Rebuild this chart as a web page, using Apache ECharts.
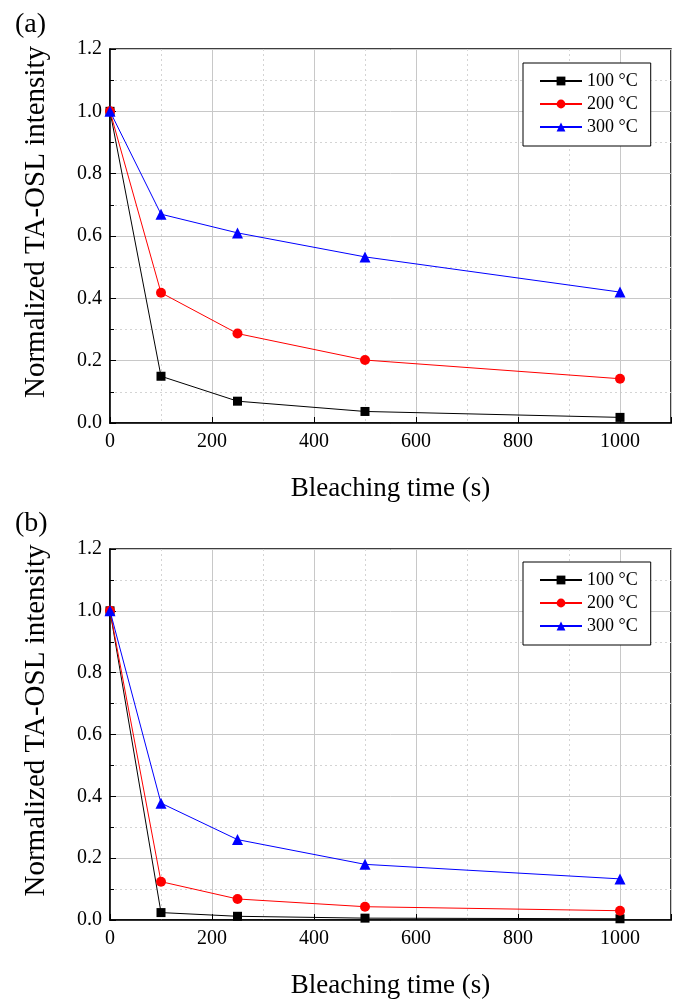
<!DOCTYPE html>
<html>
<head>
<meta charset="utf-8">
<script src="https://cdn.jsdelivr.net/npm/echarts@6/dist/echarts.min.js"></script>
<style>
  html, body { margin: 0; padding: 0; background: #fff; overflow: hidden; }
  #chart { width: 678px; height: 1000px; }
</style>
</head>
<body>
<div id="chart"></div>
<script>
var times = [0, 100, 250, 500, 1000];
var seriesNames = ['100 °C', '200 °C', '300 °C'];
// panel (a)
var a100 = [1.0, 0.150, 0.070, 0.037, 0.018];
var a200 = [1.0, 0.418, 0.287, 0.202, 0.142];
var a300 = [1.0, 0.670, 0.610, 0.533, 0.420];
// panel (b)
var b100 = [1.0, 0.024, 0.012, 0.006, 0.004];
var b200 = [1.0, 0.124, 0.068, 0.043, 0.030];
var b300 = [1.0, 0.378, 0.260, 0.180, 0.133];

var colors = ['#000000', '#ff0000', '#0000ff'];
var symbols = ['rect', 'circle', 'triangle'];
var symSizes = [9, 10, 11];
var font = 'Liberation Serif, Times New Roman, serif';

function pairs(ys) {
  return times.map(function (t, i) { return [t, ys[i]]; });
}

function xAxisOf(idx) {
  return {
    type: 'value', gridIndex: idx, min: 0, max: 1100, interval: 200,
    name: 'Bleaching time (s)', nameLocation: 'middle', nameGap: 52,
    nameTextStyle: { fontFamily: font, fontSize: 27, color: '#000' },
    axisLine: { show: true, onZero: false, lineStyle: { color: '#000', width: 1.5 } },
    axisTick: { show: true, inside: true, length: 6, lineStyle: { color: '#000' } },
    minorTick: { show: true, splitNumber: 2, length: 0, lineStyle: { color: '#000', width: 0 } },
    axisLabel: { fontFamily: font, fontSize: 20, color: '#000', margin: 9,
      formatter: function (v) { return v > 1000 ? '' : v; } },
    splitLine: { show: true, lineStyle: { color: '#c8c8c8', width: 1 } },
    minorSplitLine: { show: true, lineStyle: { color: '#d4d4d4', type: [2, 3], width: 1 } }
  };
}

function yAxisOf(idx) {
  return {
    type: 'value', gridIndex: idx, min: 0, max: 1.2, interval: 0.2,
    name: 'Normalized TA-OSL intensity', nameLocation: 'middle', nameGap: 59,
    // label sits a little above the middle of the axis
    nameTextStyle: { fontFamily: font, fontSize: 29, color: '#000', padding: [0, 0, 0, 28] },
    axisLine: { show: true, onZero: false, lineStyle: { color: '#000', width: 1.5 } },
    axisTick: { show: true, inside: true, length: 6, lineStyle: { color: '#000' } },
    minorTick: { show: true, splitNumber: 2, length: 4, lineStyle: { color: '#000' } },
    axisLabel: { fontFamily: font, fontSize: 20, color: '#000', margin: 8,
      formatter: function (v) { return v.toFixed(1); } },
    splitLine: { show: true, lineStyle: { color: '#c8c8c8', width: 1 } },
    minorSplitLine: { show: true, lineStyle: { color: '#d4d4d4', type: [2, 3], width: 1 } }
  };
}

function lineSeries(name, data, k, idx) {
  return {
    name: name, type: 'line', xAxisIndex: idx, yAxisIndex: idx,
    data: pairs(data), symbol: symbols[k], symbolSize: symSizes[k],
    lineStyle: { color: colors[k], width: 1 },
    itemStyle: { color: colors[k] },
    clip: false, z: 3 + k
  };
}

function legendOf(idx, top) {
  return {
    data: seriesNames, orient: 'vertical', left: 523, top: top,
    itemWidth: 42, itemHeight: 11, itemGap: 5,
    padding: [9, 13, 10, 16],
    borderColor: '#000', borderWidth: 1, backgroundColor: '#fff',
    textStyle: { fontFamily: font, fontSize: 18, color: '#000' },
    selectedMode: false
  };
}

var chart = echarts.init(document.getElementById('chart'));
chart.setOption({
  animation: false,
  backgroundColor: '#fff',
  title: [
    { text: '(a)', left: 10, top: 6, textStyle: { fontFamily: font, fontSize: 28, fontWeight: 'normal', color: '#000' } },
    { text: '(b)', left: 10, top: 505, textStyle: { fontFamily: font, fontSize: 28, fontWeight: 'normal', color: '#000' } }
  ],
  grid: [
    { left: 110, top: 49, width: 561, height: 374, show: true, borderColor: '#000', borderWidth: 1.5, backgroundColor: 'transparent' },
    { left: 110, top: 549, width: 561, height: 374, show: true, borderColor: '#000', borderWidth: 1.5, backgroundColor: 'transparent' }
  ],
  legend: [legendOf(0, 63), legendOf(1, 562)],
  xAxis: [xAxisOf(0), xAxisOf(1)],
  yAxis: [yAxisOf(0), yAxisOf(1)],
  series: [
    lineSeries(seriesNames[0], a100, 0, 0),
    lineSeries(seriesNames[1], a200, 1, 0),
    lineSeries(seriesNames[2], a300, 2, 0),
    lineSeries(seriesNames[0], b100, 0, 1),
    lineSeries(seriesNames[1], b200, 1, 1),
    lineSeries(seriesNames[2], b300, 2, 1)
  ]
});
window.addEventListener('resize', function () { chart.resize(); });
</script>
</body>
</html>
